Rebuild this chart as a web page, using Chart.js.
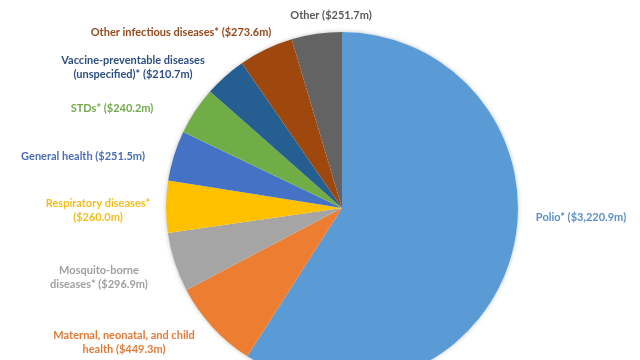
<!DOCTYPE html>
<html>
<head>
<meta charset="utf-8">
<script src="https://cdn.jsdelivr.net/npm/chart.js@4"></script>
<style>
  html, body { margin: 0; padding: 0; background: #fff; overflow: hidden; }
  #wrap { width: 640px; height: 416px; }
</style>
</head>
<body>
<div id="wrap"><canvas id="pie" width="640" height="416"></canvas></div>
<script>
// funding by area, $m, clockwise from 12 o'clock
const categories = [
  "Polio*", "Maternal, neonatal, and child health", "Mosquito-borne diseases*",
  "Respiratory diseases*", "General health", "STDs*",
  "Vaccine-preventable diseases (unspecified)*", "Other infectious diseases*", "Other"
];
const amounts = [3220.9, 449.3, 296.9, 260.0, 251.5, 240.2, 210.7, 273.6, 251.7];
const sliceColors = ["#5B9BD5", "#ED7D31", "#A5A5A5", "#FFC000", "#4472C4",
                     "#70AD47", "#255E91", "#9E480E", "#636363"];
const labelLines = [
  ["Polio* ($3,220.9m)"],
  ["Maternal, neonatal, and child", "health ($449.3m)"],
  ["Mosquito-borne", "diseases* ($296.9m)"],
  ["Respiratory diseases*", "($260.0m)"],
  ["General health ($251.5m)"],
  ["STDs* ($240.2m)"],
  ["Vaccine-preventable diseases", "(unspecified)* ($210.7m)"],
  ["Other infectious diseases* ($273.6m)"],
  ["Other ($251.7m)"]
];

// label centres, offset from the pie centre (first line baseline middle)
const labelOffsets = [
  [239, 9], [-218, 127], [-243, 62], [-244, -5], [-259, -52],
  [-230, -100], [-209, -148], [-161, -176], [-11, -193]
];
const labelTextColors = ["#5B8FC7", "#E07B39", "#A0A0A0", "#F5BE1A", "#4B6FB5",
                         "#74AA4E", "#2E4F82", "#964A1C", "#5A5A5A"];

const pieLabels = {
  id: "pieLabels",
  afterDatasetsDraw(chart) {
    const ctx = chart.ctx;
    const arcs = chart.getDatasetMeta(0).data;
    const cx = arcs[0].x, cy = arcs[0].y;
    ctx.save();
    ctx.font = "bold 11px Lato";
    ctx.textAlign = "center";
    ctx.textBaseline = "middle";
    labelLines.forEach((lines, i) => {
      ctx.fillStyle = labelTextColors[i];
      lines.forEach((t, j) => {
        ctx.fillText(t, cx + labelOffsets[i][0], cy + labelOffsets[i][1] + j * 14);
      });
    });
    ctx.restore();
  }
};

// soft halo under the pie, like the office chart
const pieHalo = {
  id: "pieHalo",
  beforeDatasetsDraw(chart) {
    const arc = chart.getDatasetMeta(0).data[0];
    const ctx = chart.ctx;
    ctx.save();
    ctx.shadowColor = "rgba(0,0,0,0.25)";
    ctx.shadowBlur = 4;
    ctx.fillStyle = "#fff";
    ctx.beginPath();
    ctx.arc(arc.x, arc.y, arc.outerRadius, 0, Math.PI * 2);
    ctx.fill();
    ctx.restore();
  }
};

new Chart(document.getElementById("pie"), {
  type: "pie",
  data: {
    labels: categories,
    datasets: [{
      data: amounts,
      backgroundColor: sliceColors,
      borderWidth: 0
    }]
  },
  options: {
    responsive: false,
    animation: false,
    layout: { padding: { left: 166, right: 122, top: 32, bottom: 32 } },
    plugins: { legend: { display: false }, tooltip: { enabled: false } }
  },
  plugins: [pieHalo, pieLabels]
});
</script>
</body>
</html>
